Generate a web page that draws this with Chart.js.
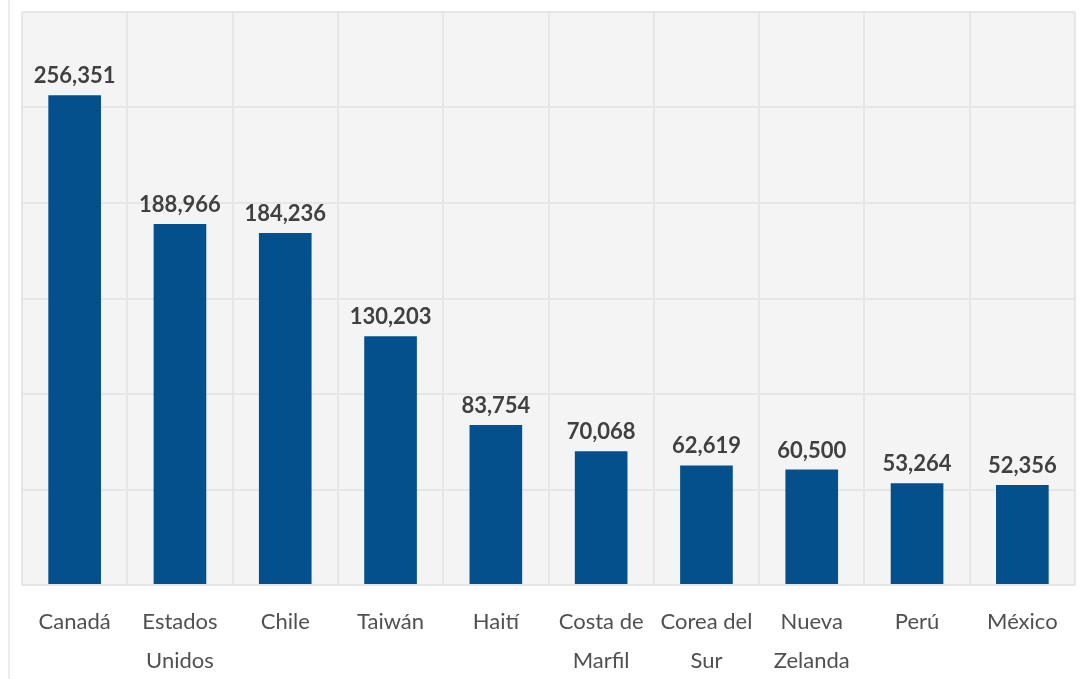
<!DOCTYPE html>
<html>
<head>
<meta charset="utf-8">
<script src="https://cdn.jsdelivr.net/npm/chart.js@4/dist/chart.umd.min.js"></script>
<style>
  html, body { margin: 0; padding: 0; background: #fff; }
  #wrap { position: relative; width: 1085px; height: 679px; }
  #wrap:before { content: ""; position: absolute; left: 8px; top: 0; bottom: 0; width: 2px; background: #ececec; }
</style>
</head>
<body>
<div id="wrap"><canvas id="chart" width="1085" height="679"></canvas></div>
<script>
// countries and values
var countries = [['Canadá'], ['Estados', 'Unidos'], ['Chile'], ['Taiwán'], ['Haití'],
  ['Costa de', 'Marfil'], ['Corea del', 'Sur'], ['Nueva', 'Zelanda'], ['Perú'], ['México']];
var totals = [256351, 188966, 184236, 130203, 83754, 70068, 62619, 60500, 53264, 52356];
var yMax = 300000;
var yStep = 50000;

// grey fill behind the plot area
var plotBackground = {
  id: 'plotBackground',
  beforeDraw: function(chart) {
    var a = chart.chartArea, ctx = chart.ctx;
    ctx.save();
    ctx.fillStyle = '#f4f4f4';
    ctx.fillRect(a.left, a.top, a.right - a.left, a.bottom - a.top);
    ctx.restore();
  }
};

// value printed over every bar
var valueLabels = {
  id: 'valueLabels',
  afterDatasetsDraw: function(chart) {
    var ctx = chart.ctx;
    var meta = chart.getDatasetMeta(0);
    ctx.save();
    ctx.font = 'bold 22px Lato, "Open Sans", sans-serif';
    ctx.fillStyle = '#404040';
    ctx.textAlign = 'center';
    ctx.textBaseline = 'bottom';
    meta.data.forEach(function(bar, i) {
      ctx.fillText(totals[i].toLocaleString('en-US'), bar.x, bar.y - 8);
    });
    ctx.restore();
  }
};

var ctx = document.getElementById('chart').getContext('2d');
var chartBar = new Chart(ctx, {
  type: 'bar',
  data: {
    labels: countries,
    datasets: [{
      data: totals,
      backgroundColor: '#03508c',
      barPercentage: 0.5,
      categoryPercentage: 1
    }]
  },
  options: {
    responsive: false,
    animation: false,
    layout: { padding: { left: 22, top: 12, right: 10, bottom: 0 } },
    plugins: { legend: { display: false }, tooltip: { enabled: false } },
    scales: {
      x: {
        grid: { color: '#e6e6e6', lineWidth: 2, drawTicks: false },
        border: { display: false },
        afterFit: function(axis) { axis.height = 94; },
        ticks: {
          color: '#505050',
          padding: 18,
          maxRotation: 0,
          autoSkip: false,
          font: { family: 'Lato, "Open Sans", sans-serif', size: 22, lineHeight: 1.75 }
        }
      },
      y: {
        min: 0,
        max: yMax,
        grid: { color: '#e6e6e6', lineWidth: 2, drawTicks: false },
        border: { display: false },
        ticks: { display: false, stepSize: yStep }
      }
    }
  },
  plugins: [plotBackground, valueLabels]
});
</script>
</body>
</html>
